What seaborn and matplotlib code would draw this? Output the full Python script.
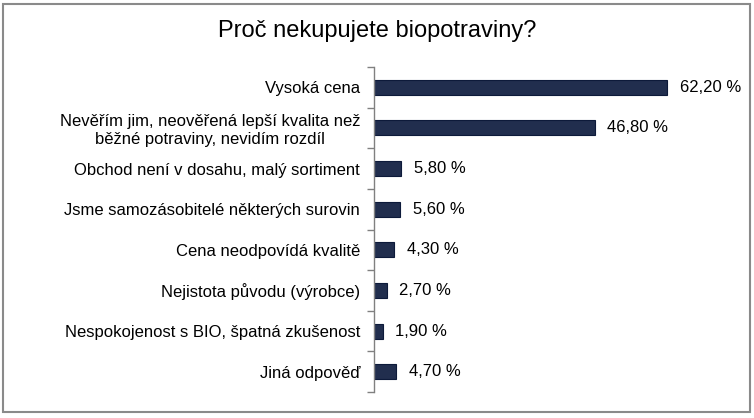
import matplotlib
matplotlib.use("Agg")
import matplotlib.pyplot as plt
import seaborn as sns
import pandas as pd
from matplotlib.patches import Rectangle

categories = [
    "Vysoká cena",
    "Nevěřím jim, neověřená lepší kvalita než\nběžné potraviny, nevidím rozdíl",
    "Obchod není v dosahu, malý sortiment",
    "Jsme samozásobitelé některých surovin",
    "Cena neodpovídá kvalitě",
    "Nejistota původu (výrobce)",
    "Nespokojenost s BIO, špatná zkušenost",
    "Jiná odpověď",
]
values = [62.2, 46.8, 5.8, 5.6, 4.3, 2.7, 1.9, 4.7]
value_labels = ["62,20 %", "46,80 %", "5,80 %", "5,60 %", "4,30 %", "2,70 %", "1,90 %", "4,70 %"]
title = "Proč nekupujete biopotraviny?"

sns.set_theme(style="white")
plt.rcParams['font.family'] = ['Liberation Sans', 'DejaVu Sans']

df = pd.DataFrame({"cat": categories, "val": values})

fig = plt.figure(figsize=(7.54, 4.18), dpi=100)
ax = fig.add_axes([374/754, 1 - 392/418, 330/754, 325/418])

sns.barplot(data=df, x="val", y="cat", ax=ax, color="#1a2b55", width=0.37,
            edgecolor="#0d1a3a", linewidth=0.8, orient="h")

ax.set_xlim(0, 70)
ax.set_ylim(len(categories) - 0.5, -0.5)
ax.set_xlabel("")
ax.set_ylabel("")
ax.set_xticks([])
for s in ["top", "right", "bottom"]:
    ax.spines[s].set_visible(False)
ax.spines["left"].set_color("#808080")
ax.spines["left"].set_linewidth(1.0)

# tick marks between categories
ax.set_yticks([i - 0.5 for i in range(len(categories) + 1)], minor=False)
ax.set_yticklabels([])
ax.tick_params(axis="y", which="major", direction="out", length=5, color="#808080", width=1, left=True)
ax.set_yticks(range(len(categories)), minor=True)
ax.set_yticklabels(categories, minor=True)
ax.tick_params(axis="y", which="minor", length=0, pad=10, labelsize=12, labelcolor="black")
for lbl in ax.get_yticklabels(minor=True):
    lbl.set_multialignment("center")
    lbl.set_linespacing(1.25)

for i, (v, t) in enumerate(zip(values, value_labels)):
    ax.annotate(t, xy=(v, i), xytext=(9, 0), textcoords="offset points",
                va="center", ha="left", fontsize=12, color="black")

fig.text(0.5, 1 - 31/418, title, ha="center", va="center", fontsize=17, color="black")

fig.patches.append(Rectangle((3/754, 1 - 412/418), 747/754, 408/418, transform=fig.transFigure,
                             fill=False, edgecolor="#8a8a8a", linewidth=1.5))

fig.savefig("out.png", dpi=100, facecolor="white")
